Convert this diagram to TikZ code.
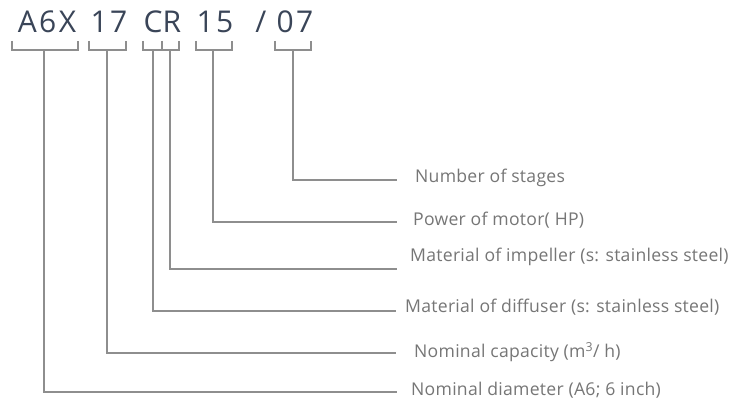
\documentclass[tikz,border=0pt]{standalone}
\usepackage{fontspec}
\setmainfont{Open Sans}
\definecolor{codecol}{HTML}{3A4558}
\definecolor{lblcol}{HTML}{767676}
\definecolor{linecol}{HTML}{8E8E8E}
\begin{document}
\begin{tikzpicture}[x=1pt,y=-1pt,
  code/.style={font=\fontsize{30}{30}\selectfont\addfontfeature{LetterSpace=8}, text=codecol, inner sep=0, anchor=base},
  lbl/.style={font=\fontsize{17.6}{19}\selectfont\addfontfeature{LetterSpace=1.5}, text=lblcol, anchor=west, inner sep=0},
  brk/.style={draw=linecol, line width=1.1pt},
  conn/.style={draw=linecol, line width=1.1pt}]
\useasboundingbox (0,0) rectangle (737,406);
\fill[white] (0,0) rectangle (737,406);
% code characters
\node[code] (cA) at (47,33) {A6X};
\node[code] (c17) at (109,33) {17};
\node[code] (cC) at (153,33) {C};
\node[code] (cR) at (172,33) {R};
\node[code] (c15) at (215,33) {15};
\node[code] (cS) at (261,33) {/};
\node[code] (c07) at (295,33) {07};
% brackets
\draw[brk] (12,41) |- (78,50) -- (78,41);
\draw[brk] (89,41) |- (126,50) -- (126,41);
\draw[brk] (143,41) |- (179,50) -- (179,41);
\draw[brk] (162,41) -- (162,50);
\draw[brk] (196,41) |- (232,50) -- (232,41);
\draw[brk] (275,41) |- (311,50) -- (311,41);
% stem coordinates
\coordinate (s1) at (44,50);
\coordinate (s2) at (107,50);
\coordinate (s3) at (153,50);
\coordinate (s4) at (170,50);
\coordinate (s5) at (213,50);
\coordinate (s6) at (293,50);
% line ends
\coordinate (e6) at (397,180);
\coordinate (e5) at (397,222);
\coordinate (e4) at (397,269);
\coordinate (e3) at (396,311);
\coordinate (e2) at (396,353);
\coordinate (e1) at (397,392);
% labels
\node[lbl] (l6) at (415,178) {Number of stages};
\node[lbl] (l5) at (413,220) {Power of motor( HP)};
\node[lbl] (l4) at (410,257) {Material of impeller (s: stainless steel)};
\node[lbl] (l3) at (405,307) {Material of diffuser (s: stainless steel)};
\node[lbl] (l2) at (414,352) {Nominal capacity (m\textsuperscript{3}/ h)};
\node[lbl] (l1) at (411,390) {Nominal diameter (A6; 6 inch)};
% connectors
\draw[conn] (s6) |- (e6);
\draw[conn] (s5) |- (e5);
\draw[conn] (s4) |- (e4);
\draw[conn] (s3) |- (e3);
\draw[conn] (s2) |- (e2);
\draw[conn] (s1) |- (e1);
\end{tikzpicture}
\end{document}
